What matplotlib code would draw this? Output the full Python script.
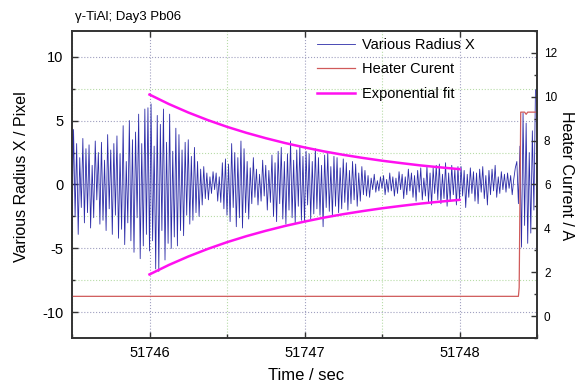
import numpy as np
import matplotlib
matplotlib.use("Agg")
import matplotlib.pyplot as plt
from matplotlib.ticker import MultipleLocator

plt.rcParams['font.family'] = ['Liberation Sans', 'DejaVu Sans']
plt.rcParams['axes.unicode_minus'] = False

# ---------------- data ----------------
title = "γ-TiAl; Day3 Pb06"
radius_t0 = 51745.50
radius_dt = 0.01
radius_x = [
    -3.8, 4.3, -2.5, 3.2, -3.9, 2.1, -1.8, 3.6, -3.0, 2.8,
    -2.2, 3.1, -3.4, 1.5, -2.6, 3.4, -1.2, 2.5, -3.1, 3.3,
    -2.8, 1.9, -3.6, 3.9, -1.9, 2.7, -3.9, 3.2, -2.4, 3.8,
    -4.2, 2.4, -3.5, 4.6, -4.7, 1.8, -3.0, 5.0, -4.4, 3.5,
    -5.3, 4.1, -2.6, 5.5, -5.8, 3.2, -4.8, 5.9, -3.9, 6.0,
    -5.2, 6.3, -4.4, 3.0, -6.6, 5.4, -6.8, 4.7, -3.6, 5.9,
    -5.9, 3.3, -4.6, 5.5, -5.0, 2.6, -4.1, 4.4, -4.8, 3.9,
    -3.6, 2.7, -4.0, 3.3, -2.4, 3.5, -3.1, 2.2, -2.8, 2.9,
    -2.2, 1.8, -2.5, 1.2, -1.6, 1.4, -1.1, 0.9, -1.2, 0.6,
    -0.7, 1.0, -0.4, 0.9, -1.3, 0.6, -1.4, 1.7, -1.9, 2.0,
    -2.4, 1.6, -2.9, 3.2, -1.8, 2.5, -3.3, 2.1, -2.6, 3.4,
    -3.4, 2.8, -2.2, 1.8, -2.7, 1.3, -1.5, 2.1, -1.0, 1.2,
    -1.6, 0.8, -1.3, 1.9, -0.9, 1.5, -2.0, 1.1, -1.4, 2.3,
    -2.5, 1.7, -2.9, 2.6, -1.5, 2.9, -2.7, 1.8, -3.1, 2.4,
    -2.0, 3.4, -2.6, 1.9, -3.0, 2.7, -1.7, 3.0, -2.8, 2.2,
    -2.9, 2.6, -1.6, 2.4, -2.7, 1.8, -2.3, 2.8, -1.9, 2.1,
    -2.4, 1.5, -3.3, 2.3, -1.8, 2.5, -2.1, 1.4, -2.5, 2.2,
    -1.7, 2.1, -2.2, 1.3, -1.9, 2.0, -1.4, 1.7, -2.0, 1.1,
    -1.5, 1.8, -1.2, 1.6, -1.7, 0.9, -1.3, 1.4, -0.8, 1.1,
    -0.9, 0.7, -1.0, 0.5, -0.4, 0.8, -0.6, 0.3, -0.5, 0.6,
    -0.3, 0.7, -0.8, 0.4, -0.6, 0.9, -0.5, 0.6, -0.9, 0.5,
    -0.7, 1.0, -0.4, 0.8, -1.1, 0.6, -0.8, 1.2, -0.5, 0.9,
    -1.0, 0.7, -1.3, 1.1, -0.6, 1.3, -1.2, 0.5, -0.9, 1.4,
    -1.4, 0.9, -1.6, 1.3, -0.7, 1.5, -1.2, 1.6, -1.5, 0.8,
    -1.1, 1.7, -1.7, 0.9, -1.3, 1.5, -0.8, 1.2, -1.6, 1.4,
    -1.2, 1.4, -0.9, 1.1, -1.8, 0.8, -1.0, 1.3, -0.7, 1.0,
    -1.3, 0.9, -1.5, 1.2, -0.6, 1.4, -1.1, 0.7, -1.6, 1.1,
    -0.8, 1.2, -0.5, 1.5, -1.0, 0.6, -0.7, 1.0, -0.4, 0.8,
    -0.6, 0.9, -0.3, 0.7, -0.8, 0.4, 1.3, 1.8, -1.5, 3.0,
    -4.9, 5.6, -3.2, 4.8, -4.6, 2.5, -3.8, 4.2, -2.0, 7.4,
]
radius_t = radius_t0 + radius_dt * np.arange(len(radius_x))

heater_t = [51745.50, 51748.380, 51748.385, 51748.395, 51748.42, 51748.43, 51748.44, 51748.49]
heater_a = [0.9, 0.9, 1.3, 9.3, 9.3, 9.2, 9.3, 9.3]

fit_t = [51746.000, 51746.125, 51746.250, 51746.375, 51746.500, 51746.625,
         51746.750, 51746.875, 51747.000, 51747.125, 51747.250, 51747.375,
         51747.500, 51747.625, 51747.750, 51747.875, 51748.000]
fit_upper = [7.03, 6.29, 5.63, 5.04, 4.51, 4.04, 3.62, 3.24, 2.90,
             2.59, 2.32, 2.08, 1.86, 1.67, 1.49, 1.34, 1.20]
fit_lower = [-v for v in fit_upper]

x_ticks = [51746, 51747, 51748]
left_ticks = [-10, -5, 0, 5, 10]
right_ticks = [0, 2, 4, 6, 8, 10, 12]

# ---------------- figure ----------------
fig = plt.figure(figsize=(5.76, 3.85), dpi=100)
ax = fig.add_axes([72/576, 1-338/385, (537-72)/576, (338-31)/385])
ax2 = ax.twinx()

blue = '#2c2ca8'
red = '#d05a5a'
mag = '#ff10f0'

l1, = ax.plot(radius_t, radius_x, color=blue, lw=0.6, label='Various Radius X')
l3, = ax.plot(fit_t, fit_upper, color=mag, lw=1.8, label='Exponential fit', zorder=4)
ax.plot(fit_t, fit_lower, color=mag, lw=1.8, zorder=4)
l2, = ax2.plot(heater_t, heater_a, color=red, lw=0.9, label='Heater Curent')

ax.set_xlim(51745.5, 51748.5)
ax.set_ylim(-12, 12)
ax2.set_ylim(-1, 13)

ax.set_xticks(x_ticks)
ax.set_xticklabels([str(v) for v in x_ticks])
ax.xaxis.set_minor_locator(MultipleLocator(0.5))
ax.set_yticks(left_ticks)
ax.set_yticklabels([str(v) for v in left_ticks])
ax.yaxis.set_minor_locator(MultipleLocator(2.5))
ax2.set_yticks(right_ticks)
ax2.yaxis.set_minor_locator(MultipleLocator(1))

ax.grid(True, which='major', color='#a0a0c0', linestyle=':', lw=0.8)
ax.grid(True, which='minor', color='#b8dca8', linestyle=':', lw=0.8)
ax.set_axisbelow(True)

spc = '#333333'
for a in (ax, ax2):
    for s in a.spines.values():
        s.set_color(spc)
        s.set_linewidth(1.2)

ax.tick_params(axis='x', which='major', direction='in', length=4.5, width=1, top=True, bottom=True,
               labelsize=10.5, pad=6, color=spc)
ax.tick_params(axis='x', which='minor', direction='in', length=3, width=1, top=False, bottom=True, color=spc)
ax.tick_params(axis='y', which='major', direction='in', length=4.5, width=1, labelsize=10.5, pad=6, color=spc)
ax.tick_params(axis='y', which='minor', direction='in', length=2.5, width=1, color=spc)
ax2.tick_params(axis='y', which='major', direction='in', length=4.5, width=1, labelsize=8.5, pad=5, color=spc)
ax2.tick_params(axis='y', which='minor', direction='in', length=2.5, width=1, color=spc)

ax.set_xlabel('Time / sec', fontsize=12)
ax.xaxis.set_label_coords((306-72)/465, (338-375)/307)
ax.xaxis.label.set_va('center')

ax.set_ylabel('Various Radius X / Pixel', fontsize=11.5)
ax.yaxis.set_label_coords((22-72)/465, (338-177)/307)
ax.yaxis.label.set_va('center')

ax2.set_ylabel('Heater Current / A', fontsize=11.5, rotation=270)
ax2.yaxis.set_label_coords((566-72)/465, (338-176)/307)
ax2.yaxis.label.set_va('center')

fig.text(75/576, 1-17/385, title, fontsize=9.5, ha='left', va='center')

leg = ax2.legend([l1, l2, l3], ['Various Radius X', 'Heater Curent', 'Exponential fit'],
                 loc='upper left', bbox_to_anchor=((317-72)/465, (338-38)/307),
                 frameon=False, fontsize=10.5, borderpad=0, borderaxespad=0,
                 handlelength=2.6, handletextpad=0.5, labelspacing=0.72)

fig.savefig('out.png', dpi=100)
